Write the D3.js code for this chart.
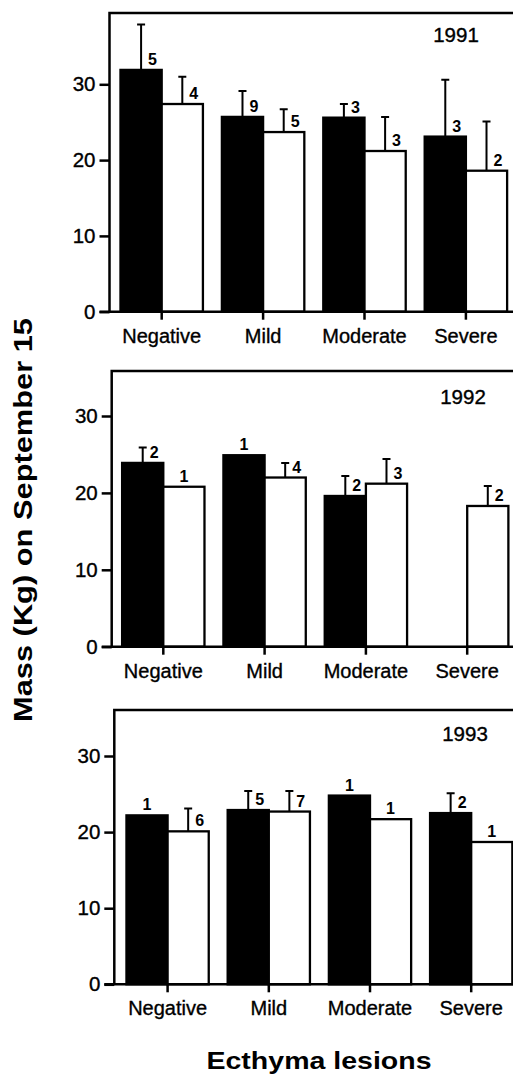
<!DOCTYPE html>
<html>
<head>
<meta charset="utf-8">
<script src="https://cdn.jsdelivr.net/npm/d3@7"></script>
<style>
  body { margin: 0; background: #fff; }
  svg { display: block; font-family: "Liberation Sans", Arial, Helvetica, sans-serif; }
</style>
</head>
<body>
<script>
const categories = ["Negative", "Mild", "Moderate", "Severe"]
const years = ["1991", "1992", "1993"]
const yTicks = [0, 10, 20, 30]

// filled (black) bars: mean, standard error, sample size per year
const blackMean = [[31.9, 25.7, 25.6, 23.1], [23.9, 24.9, 19.6, null], [22.2, 22.9, 24.8, 22.5]]
const blackSE = [[6.0, 3.4, 1.8, 7.5], [2.0, 0, 2.6, null], [0, 2.5, 0, 2.6]]
const blackN = [[5, 9, 3, 3], [2, 1, 2, null], [1, 5, 1, 2]]

// open (white) bars
const whiteMean = [[27.4, 23.7, 21.2, 18.6], [20.8, 22.0, 21.2, 18.3], [20.1, 22.7, 21.7, 18.7]]
const whiteSE = [[3.6, 3.0, 4.5, 6.5], [0, 1.9, 3.2, 2.6], [3.0, 2.7, 0, 0]]
const whiteN = [[4, 5, 3, 2], [1, 4, 3, 2], [6, 7, 1, 1]]

// panel placement (the scan is slightly skewed, so each panel has its own offsets)
const panels = [
    { left: 109.5, top: 13, zero: 311.7, y30: 84.3, c0: 161.7, step: 101.4, yearX: 456, yearY: 41.7 },
    { left: 111.7, top: 371, zero: 646.7, y30: 416, c0: 163.3, step: 101.3, yearX: 463, yearY: 404 },
    { left: 114.3, top: 710, zero: 984.3, y30: 756, c0: 167.6, step: 101.2, yearX: 465, yearY: 740.7 }
]

const W = 513, H = 1074
const svg = d3.select("body").append("svg").attr("width", W).attr("height", H)

panels.forEach((p, k) => {
    const g = svg.append("g")
    const y = d3.scaleLinear().domain([0, 30]).range([p.zero, p.y30])
    const x = d3.scaleBand().domain(categories)
        .range([p.c0 - p.step / 2, p.c0 - p.step / 2 + p.step * categories.length])
    const x1 = d3.scaleBand().domain(["b", "w"]).range([0, x.bandwidth()]).paddingOuter(0.23)

    // frame: left axis and top line
    g.append("path")
        .attr("d", `M${p.left},${p.zero}V${p.top}H${W + 10}`)
        .attr("fill", "none").attr("stroke", "#000").attr("stroke-width", 2.5)

    const bars = []
    categories.forEach((c, i) => {
        if (blackMean[k][i] != null) bars.push({ c, s: "b", v: blackMean[k][i], se: blackSE[k][i], n: blackN[k][i] })
        if (whiteMean[k][i] != null) bars.push({ c, s: "w", v: whiteMean[k][i], se: whiteSE[k][i], n: whiteN[k][i] })
    })
    const cx = (d) => x(d.c) + x1(d.s) + x1.bandwidth() / 2

    g.selectAll("rect.bar")
        .data(bars)
        .join("rect")
        .attr("class", "bar")
        .attr("x", (d) => x(d.c) + x1(d.s))
        .attr("y", (d) => y(d.v))
        .attr("width", x1.bandwidth())
        .attr("height", (d) => y(0) - y(d.v))
        .attr("fill", (d) => d.s === "b" ? "#000" : "#fff")
        .attr("stroke", "#000")
        .attr("stroke-width", 2.3)

    const eb = bars.filter((d) => d.se > 0)
    g.selectAll("path.err")
        .data(eb)
        .join("path")
        .attr("class", "err")
        .attr("d", (d) => `M${cx(d)},${y(d.v)}V${y(d.v + d.se)}M${cx(d) - 4},${y(d.v + d.se)}H${cx(d) + 4}`)
        .attr("fill", "none").attr("stroke", "#000").attr("stroke-width", 2)

    g.selectAll("text.n")
        .data(bars)
        .join("text")
        .attr("class", "n")
        .attr("x", (d) => d.se > 0 ? cx(d) + 7 : cx(d))
        .attr("y", (d) => y(d.v) - 5)
        .attr("text-anchor", (d) => d.se > 0 ? "start" : "middle")
        .attr("font-size", 16)
        .attr("font-weight", "bold")
        .text((d) => d.n)

    // baseline
    g.append("line")
        .attr("x1", p.left - 10).attr("x2", W + 10)
        .attr("y1", y(0)).attr("y2", y(0))
        .attr("stroke", "#000").attr("stroke-width", 2.5)

    const ya = g.append("g")
        .attr("transform", `translate(${p.left},0)`)
        .call(d3.axisLeft(y).tickValues(yTicks).tickSize(10).tickPadding(4).tickFormat(d3.format("d")))
    ya.select(".domain").remove()
    ya.selectAll("line").attr("stroke-width", 2.5)
    ya.selectAll("text").attr("font-size", 20.5).attr("font-family", null).attr("fill", "#000")
        .attr("stroke", "#000").attr("stroke-width", 0.35)

    const xa = g.append("g")
        .attr("transform", `translate(0,${y(0)})`)
        .call(d3.axisBottom(x).tickSize(8).tickPadding(9))
    xa.select(".domain").remove()
    xa.selectAll("line").attr("stroke-width", 2.5)
    xa.selectAll("text").attr("font-size", 20).attr("font-family", null).attr("fill", "#000")
        .attr("stroke", "#000").attr("stroke-width", 0.35)

    g.append("text")
        .attr("x", p.yearX).attr("y", p.yearY)
        .attr("text-anchor", "middle")
        .attr("font-size", 20.5)
        .attr("stroke", "#000").attr("stroke-width", 0.35)
        .text(years[k])
})

svg.append("text")
    .attr("transform", "translate(32,520) rotate(-90)")
    .attr("text-anchor", "middle")
    .attr("font-size", 25)
    .attr("font-weight", "bold")
    .attr("textLength", 404)
    .attr("lengthAdjust", "spacingAndGlyphs")
    .text("Mass (Kg) on September 15")

svg.append("text")
    .attr("x", 319).attr("y", 1069)
    .attr("text-anchor", "middle")
    .attr("font-size", 24)
    .attr("font-weight", "bold")
    .attr("textLength", 225)
    .attr("lengthAdjust", "spacingAndGlyphs")
    .text("Ecthyma lesions")
</script>
</body>
</html>
